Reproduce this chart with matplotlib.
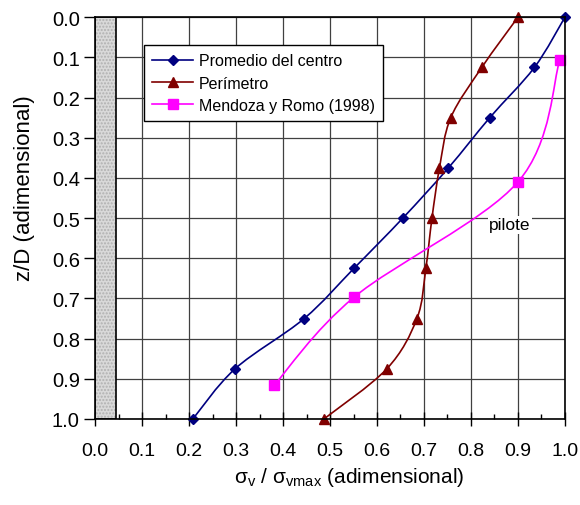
import numpy as np
import matplotlib.pyplot as plt
from matplotlib.path import Path
from matplotlib.patches import PathPatch, Rectangle
from matplotlib.lines import Line2D

plt.rcParams['font.family'] = ['Liberation Sans', 'DejaVu Sans']
plt.rcParams['mathtext.fontset'] = 'custom'
plt.rcParams['mathtext.rm'] = 'Liberation Sans'

# Promedio del centro
centro_x = [1.00, 0.935, 0.84, 0.752, 0.655, 0.551, 0.445, 0.298, 0.208]
centro_z = [0.0, 0.125, 0.25, 0.375, 0.50, 0.625, 0.75, 0.875, 1.0]
# Perímetro
perim_x = [0.90, 0.823, 0.757, 0.733, 0.717, 0.704, 0.685, 0.621, 0.487]
perim_z = [0.0, 0.125, 0.25, 0.375, 0.50, 0.625, 0.75, 0.875, 1.0]
# Mendoza y Romo (1998)
mr_x = [0.989, 0.90, 0.551, 0.381]
mr_z = [0.107, 0.41, 0.697, 0.916]


def smooth_path(x, y, t=1 / 6):
    # Bezier path through the points (Excel-style smoothed line)
    p = np.column_stack([x, y])
    verts = [p[0]]
    codes = [Path.MOVETO]
    n = len(p)
    for i in range(n - 1):
        p0 = p[i - 1] if i > 0 else p[i]
        p3 = p[i + 2] if i + 2 < n else p[i + 1]
        c1 = p[i] + (p[i + 1] - p0) * t
        c2 = p[i + 1] - (p3 - p[i]) * t
        verts += [c1, c2, p[i + 1]]
        codes += [Path.CURVE4] * 3
    return Path(verts, codes)


fig = plt.figure(figsize=(5.8, 5.06), dpi=100)
ax = fig.add_axes([0.164, 0.170, 0.810, 0.794])

series = [
    (centro_x, centro_z, '#000080', 'D', 5.5, 'Promedio del centro'),
    (perim_x, perim_z, '#800000', '^', 7.5, 'Perímetro'),
    (mr_x, mr_z, '#FF00FF', 's', 6.5, 'Mendoza y Romo (1998)'),
]
handles = []
for x, z, c, m, ms, lab in series:
    ax.add_patch(PathPatch(smooth_path(x, z), fill=False, edgecolor=c, lw=1.2, zorder=4))
    ax.plot(x, z, linestyle='none', marker=m, ms=ms, color=c, zorder=5, clip_on=False)
    handles.append(Line2D([], [], color=c, lw=1.2, marker=m, ms=ms, label=lab))

# pilote
ax.add_patch(Rectangle((0, 0), 0.045, 1.0, facecolor='#d9d9d9', edgecolor='#b0b0b0',
                       hatch='.....', lw=0, zorder=3))
ax.add_patch(Rectangle((0, 0), 0.045, 1.0, fill=False, edgecolor='black', lw=1.2, zorder=3))
ax.text(0.883, 0.517, 'pilote', fontsize=12.5, ha='center', va='center',
        bbox=dict(facecolor='white', edgecolor='none', pad=1), zorder=3)

ax.set_xlim(0, 1)
ax.set_ylim(1, 0)
ax.set_xticks(np.arange(0, 1.01, 0.1))
ax.set_xticks(np.arange(0.05, 1.0, 0.1), minor=True)
ax.set_yticks(np.arange(0, 1.01, 0.1))
ax.xaxis.set_major_formatter(plt.FormatStrFormatter('%.1f'))
ax.yaxis.set_major_formatter(plt.FormatStrFormatter('%.1f'))
ax.tick_params(axis='x', which='major', direction='inout', length=9.5, width=1, labelsize=14, pad=12)
ax.tick_params(axis='x', which='minor', direction='in', length=3.6, width=1)
ax.tick_params(axis='y', which='major', direction='out', length=8, width=1, labelsize=14.5, pad=3)
ax.grid(True, which='major', color='#404040', lw=0.9)
for s in ax.spines.values():
    s.set_linewidth(1.2)
    s.set_zorder(6)

ax.set_ylabel('z/D (adimensional)', fontsize=16, va='center')
ax.yaxis.set_label_coords(-0.151, 0.577)
ax.set_xlabel(r'σ$_{\mathrm{v}}$ / σ$_{\mathrm{vmax}}$ (adimensional)', fontsize=15, va='center')
ax.xaxis.set_label_coords(0.54, -0.142)

ax.legend(handles=handles, loc='upper left', bbox_to_anchor=(0.104, 0.930), borderaxespad=0,
          fontsize=11.5, fancybox=False, framealpha=1, edgecolor='black', handlelength=2.6,
          handletextpad=0.35, borderpad=0.5, labelspacing=0.45)

fig.savefig('out.png', dpi=100)
